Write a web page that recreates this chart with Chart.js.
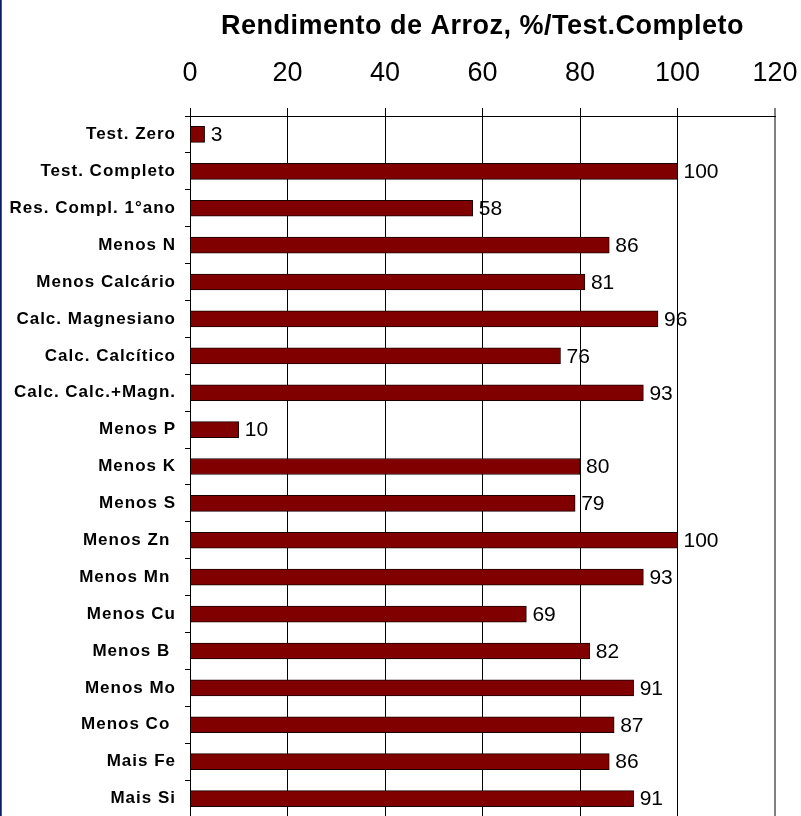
<!DOCTYPE html>
<html>
<head>
<meta charset="utf-8">
<script src="https://cdn.jsdelivr.net/npm/chart.js@4.4.0/dist/chart.umd.min.js"></script>
<style>
  html, body { margin: 0; padding: 0; background: #fff; overflow: hidden; }
  #wrap { position: relative; width: 801px; height: 816px; overflow: hidden; }
  #edge { position: absolute; left: 0; top: 0; width: 1px; height: 816px; background: #0b1f6a; border-right: 1px solid #2a55d8; z-index: 2; }
  #grafica { position: absolute; left: 0; top: 0; }
</style>
</head>
<body>
<div id="wrap">
  <div id="edge"></div>
  <canvas id="grafica" width="801" height="818"></canvas>
</div>
<script>
const labels = ['Test. Zero', 'Test. Completo', 'Res. Compl. 1°ano', 'Menos N', 'Menos Calcário',
  'Calc. Magnesiano', 'Calc. Calcítico', 'Calc. Calc.+Magn.', 'Menos P', 'Menos K', 'Menos S',
  'Menos Zn ', 'Menos Mn ', 'Menos Cu', 'Menos B ', 'Menos Mo', 'Menos Co ', 'Mais Fe', 'Mais Si'];
const rendimento = [3, 100, 58, 86, 81, 96, 76, 93, 10, 80, 79, 100, 93, 69, 82, 91, 87, 86, 91];
const tituloEixo = 'Rendimento de Arroz, %/Test.Completo';
const escalaMin = 0;
const escalaMax = 120;
const escalaPasso = 20;

const fonte = '"Liberation Sans", Arial, sans-serif';
const graph = document.querySelector('#grafica');

// espacamento entre letras por parte do eixo (o canvas guarda isso no estado)
function espacar(scale, metodo, valor) {
  if (!scale || scale['_esp_' + metodo]) return;
  scale['_esp_' + metodo] = true;
  const orig = scale[metodo];
  scale[metodo] = function(a) {
    this.ctx.letterSpacing = valor;
    orig.call(this, a);
    this.ctx.letterSpacing = '0px';
  };
}

// valores ao lado das barras
const rotulos = {
  id: 'rotulos',
  beforeDraw(chart) {
    espacar(chart.scales.x, 'drawTitle', '0.5px');
    espacar(chart.scales.y, 'drawLabels', '1px');
  },
  afterDatasetsDraw(chart) {
    const ctx = chart.ctx;
    const meta = chart.getDatasetMeta(0);
    ctx.save();
    ctx.letterSpacing = '0px';
    ctx.font = '21px ' + fonte;
    ctx.fillStyle = '#000';
    ctx.textAlign = 'left';
    ctx.textBaseline = 'middle';
    meta.data.forEach(function(bar, i) {
      ctx.fillText(String(rendimento[i]), bar.x + 6, bar.y + 1);
    });
    ctx.restore();
  }
};

const dataset1 = {
  label: 'Rendimento',
  data: rendimento,
  backgroundColor: '#800000',
  borderColor: '#1a0000',
  borderWidth: 1,
  borderSkipped: false,
  barThickness: 16
};

function corGrade(c) { return c.tick && c.tick.value === escalaMax ? '#808080' : '#000'; }

const config = {
  type: 'bar',
  data: { labels: labels, datasets: [dataset1] },
  options: {
    indexAxis: 'y',
    responsive: false,
    animation: false,
    devicePixelRatio: 1,
    layout: { padding: { left: 0, right: 26, top: 0, bottom: 1 } },
    plugins: {
      legend: { display: false },
      tooltip: { enabled: false }
    },
    scales: {
      x: {
        position: 'top',
        min: escalaMin,
        max: escalaMax,
        ticks: {
          stepSize: escalaPasso,
          color: '#000',
          padding: 18,
          font: { family: fonte, size: 27 }
        },
        grid: {
          color: corGrade,
          tickColor: corGrade,
          lineWidth: function(c) { return c.tick && c.tick.value === escalaMax ? 2 : 1; },
          tickLength: 8
        },
        border: { display: true, color: '#000', width: 1 },
        title: {
          display: true,
          text: tituloEixo,
          color: '#000',
          padding: { top: 10, bottom: 0 },
          font: { family: fonte, size: 27, weight: 'bold' }
        },
        afterFit: function(scale) {
          scale.height = 116;
          scale.paddingLeft = 0;
          scale.paddingRight = 0;
        }
      },
      y: {
        ticks: {
          color: '#000',
          padding: 9,
          font: { family: fonte, size: 17, weight: 'bold' }
        },
        grid: {
          drawOnChartArea: false,
          offset: true,
          tickLength: 5,
          color: '#000'
        },
        border: { display: true, color: '#000', width: 1 },
        afterFit: function(scale) {
          scale.width = 190;
          scale.paddingTop = 0;
          scale.paddingBottom = 0;
        }
      }
    }
  },
  plugins: [rotulos]
};

new Chart(graph, config);
</script>
</body>
</html>
